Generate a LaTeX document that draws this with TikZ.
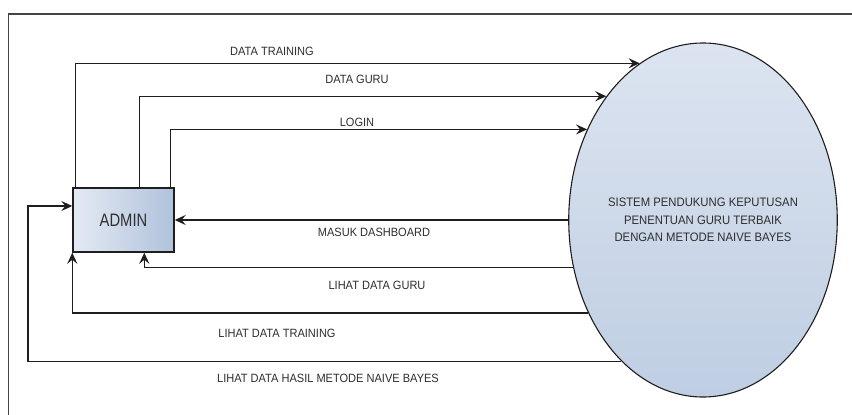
\documentclass[tikz,border=0pt]{standalone}
\usepackage{fontspec}
\setmainfont{Liberation Sans}
\usetikzlibrary{arrows.meta,shapes.geometric}
\definecolor{lin}{HTML}{1E1E1E}
\definecolor{txt}{HTML}{2E2E2E}
\definecolor{frm}{HTML}{444444}
\definecolor{elltop}{HTML}{DCE4F0}
\definecolor{ellbot}{HTML}{BFCEE3}
\definecolor{boxl}{HTML}{E4EAF4}
\definecolor{boxr}{HTML}{B0C2DC}
\begin{document}
\begin{tikzpicture}[x=1pt,y=-1pt,
  flow/.style={draw=lin,line width=1.5pt,-{Stealth[length=11pt,width=10pt,inset=4pt]}},
  lbl/.style={text=txt,font=\addfontfeature{FakeStretch=0.92}\fontsize{12}{14}\selectfont,inner sep=0pt},
  frame/.style={draw=frm,line width=1.6pt},
]
\useasboundingbox (0,0) rectangle (852,415);
\draw[frame] (8.5,415) -- (8.5,14) -- (852,14);

\node[ellipse, minimum width=268pt, minimum height=354pt, inner sep=0pt,
      draw=lin, line width=1.1pt, top color=elltop, bottom color=ellbot,
      align=center, text=txt, font=\addfontfeature{FakeStretch=0.92}\fontsize{12.3}{17.5}\selectfont] (sys) at (703,220)
      {SISTEM PENDUKUNG KEPUTUSAN\\PENENTUAN GURU TERBAIK\\DENGAN METODE NAIVE BAYES};

\node[rectangle, minimum width=101pt, minimum height=64pt, inner sep=0pt,
      draw=lin, line width=1.4pt, left color=boxl, right color=boxr,
      text=txt, font=\addfontfeature{FakeStretch=0.82}\fontsize{18}{20}\selectfont] (admin) at (123.5,220) {ADMIN};

\coordinate (hl) at (28,206);

\draw[flow] ([xshift=3pt]admin.north west) |- (sys.112.1);
\draw[flow] ([xshift=67pt]admin.north west) |- (sys.128.1);
\draw[flow] ([xshift=98pt]admin.north west) |- (sys.142.05);
\draw[flow] (sys.west) -- (admin.east);
\draw[flow] (sys.200.4) -| ([xshift=72pt]admin.south west);
\draw[flow] (sys.219.2) -| (admin.south west);
\draw[flow] (sys.240.1) -| (hl) -- (admin.west |- hl);

\node[lbl] (l1) at (272,51) {DATA TRAINING};
\node[lbl] (l2) at (357,79) {DATA GURU};
\node[lbl] (l3) at (357,122) {LOGIN};
\node[lbl] (l4) at (374,232) {MASUK DASHBOARD};
\node[lbl] (l5) at (377,285) {LIHAT DATA GURU};
\node[lbl] (l6) at (277,333) {LIHAT DATA TRAINING};
\node[lbl] (l7) at (328,378) {LIHAT DATA HASIL METODE NAIVE BAYES};
\end{tikzpicture}
\end{document}
